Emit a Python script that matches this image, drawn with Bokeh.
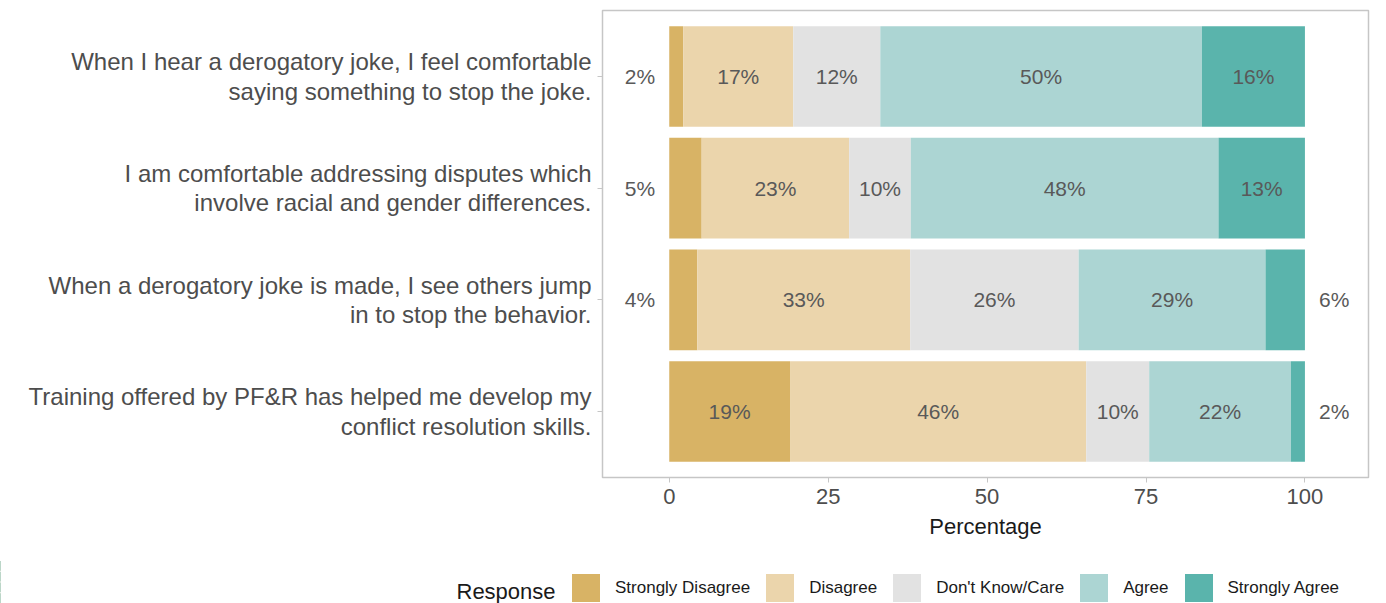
from bokeh.plotting import figure
from bokeh.layouts import column, row
from bokeh.models import (FactorRange, Range1d, Legend, LegendItem, Label,
                          ColumnDataSource, FixedTicker)
from bokeh.embed import file_html
from bokeh.resources import INLINE
from bokeh.core.properties import value

# ---------------- data ----------------
questions = [
    "When I hear a derogatory joke, I feel comfortable\nsaying something to stop the joke.",
    "I am comfortable addressing disputes which\ninvolve racial and gender differences.",
    "When a derogatory joke is made, I see others jump\nin to stop the behavior.",
    "Training offered by PF&R has helped me develop my\nconflict resolution skills.",
]
responses = ["Strongly Disagree", "Disagree", "Don't Know/Care", "Agree", "Strongly Agree"]
colors = ["#d8b365", "#ebd5ac", "#e2e2e2", "#acd5d3", "#5ab4ac"]

strongly_disagree = [2.2, 5.1, 4.4, 19.0]
disagree = [17.3, 23.2, 33.5, 46.6]
dont_know = [13.7, 9.7, 26.5, 9.9]
agree = [50.6, 48.4, 29.4, 22.3]
strongly_agree = [16.2, 13.6, 6.2, 2.2]

sd_labels = ["2%", "5%", "4%", "19%"]
d_labels = ["17%", "23%", "33%", "46%"]
dk_labels = ["12%", "10%", "26%", "10%"]
a_labels = ["50%", "48%", "29%", "22%"]
sa_labels = ["16%", "13%", "6%", "2%"]

x_ticks = [0, 25, 50, 75, 100]
legend_title = "Response"

FONT = "Liberation Sans"

# ---------------- build ----------------
keys = ["sd", "d", "dk", "a", "sa"]
series = [strongly_disagree, disagree, dont_know, agree, strongly_agree]
labels = [sd_labels, d_labels, dk_labels, a_labels, sa_labels]

src = ColumnDataSource(dict(q=questions, **{k: v for k, v in zip(keys, series)}))

p = figure(width=1376, height=560,
           y_range=FactorRange(factors=questions[::-1], range_padding=0.09,
                               range_padding_units="absolute"),
           x_range=Range1d(-10.5, 110),
           output_backend="svg", toolbar_location=None,
           min_border_left=602, min_border_right=8,
           min_border_top=10, min_border_bottom=83)

renderers = p.hbar_stack(keys, y="q", height=0.9, color=colors,
                         line_color=None, source=src)

# segment labels
lx, ly, lt = [], [], []
for j, q in enumerate(questions):
    cum = 0.0
    for i, s in enumerate(series):
        v = s[j]
        if v < 8 and i == 0:
            x = -4.6
        elif v < 8 and i == len(series) - 1:
            x = 104.6
        else:
            x = cum + v / 2
        lx.append(x)
        ly.append(q)
        lt.append(labels[i][j])
        cum += v
p.text(x="x", y="y", text="t", source=ColumnDataSource(dict(x=lx, y=ly, t=lt)),
       text_align="center", text_baseline="middle",
       text_font=value(FONT), text_font_size="21px", text_color="#595959")

# axes styling
p.xgrid.visible = False
p.ygrid.visible = False
p.outline_line_color = "#c6c6c6"
p.outline_line_width = 1.5

p.xaxis.ticker = FixedTicker(ticks=x_ticks)
p.xaxis.axis_label = "Percentage"
p.xaxis.axis_label_text_font = FONT
p.xaxis.axis_label_text_font_style = "normal"
p.xaxis.axis_label_text_font_size = "22px"
p.xaxis.axis_label_text_color = "#1a1a1a"
p.xaxis.axis_label_standoff = 7
for ax in (p.xaxis, p.yaxis):
    ax.axis_line_color = None
    ax.major_tick_line_color = "#c6c6c6"
    ax.major_tick_out = 5
    ax.major_tick_in = 0
    ax.minor_tick_line_color = None
    ax.major_label_text_font = FONT
    ax.major_label_text_color = "#4d4d4d"
p.xaxis.major_label_text_font_size = "22px"
p.xaxis.major_label_standoff = 6
p.yaxis.major_label_text_font_size = "24px"
p.yaxis.major_label_text_line_height = 1.1
p.yaxis.major_label_standoff = 6

# ---------------- legend strip ----------------
# same stacked bars, but the strip's x range lies beyond the data, so only
# the legend swatches of these renderers are visible
lg = figure(width=1376, height=43, x_range=Range1d(200, 300),
            y_range=FactorRange(factors=questions[::-1]),
            output_backend="svg", toolbar_location=None,
            x_axis_location=None, y_axis_location=None,
            min_border=0, outline_line_color=None)
lg.xgrid.visible = False
lg.ygrid.visible = False
swatches = lg.hbar_stack(keys, y="q", height=0.9, color=colors,
                         line_color=None, source=src)

legend = Legend(
    items=[LegendItem(label=r, renderers=[rd]) for r, rd in zip(responses, swatches)],
    orientation="horizontal", location=(568, -2),
    label_text_font=FONT, label_text_font_size="17px", label_text_color="#1a1a1a",
    glyph_width=35, glyph_height=35, label_standoff=12, spacing=12,
    padding=0, margin=0, border_line_color=None, background_fill_alpha=0,
)
lg.add_layout(legend)
lg.add_layout(Label(x=456, y=12, x_units="screen", y_units="screen",
                    text=legend_title, text_font=FONT, text_font_size="22px",
                    text_color="#1a1a1a", text_baseline="middle", text_align="left"))

open("out.html", "w").write(file_html(column(p, row(lg), spacing=0), INLINE))
